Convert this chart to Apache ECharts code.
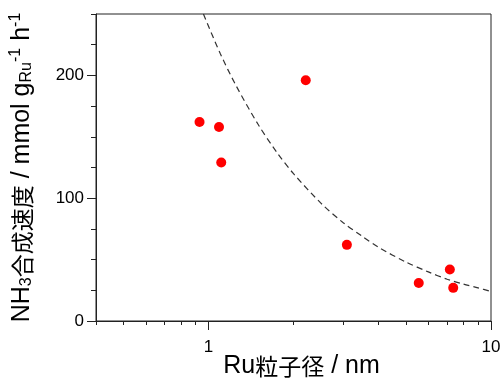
<!DOCTYPE html>
<html>
<head>
<meta charset="utf-8">
<script src="https://cdn.jsdelivr.net/npm/echarts@6/dist/echarts.min.js"></script>
<style>html,body{margin:0;padding:0;background:#fff}#c{width:504px;height:378px}</style>
</head>
<body>
<div id="c"></div>
<script>
// Measured points: Ru particle size (nm) vs NH3 synthesis rate
var sizeNm = [0.93, 1.09, 1.11, 2.21, 3.09, 5.55, 7.15, 7.35];
var rate = [162, 158, 129, 196, 62, 31, 42, 27];
// Dashed trend curve
var curveX = [0.96, 1.1, 1.25, 1.5, 1.75, 2, 2.5, 3, 3.5, 4, 5, 6, 7, 8, 9, 10];
var curveY = [250, 218, 192, 160, 137, 120, 96, 80, 69, 60, 48, 40, 34, 30, 27, 24];
var xMajorTicks = [1, 10];
var xMinorTicks = [0.4, 0.5, 0.6, 0.7, 0.8, 0.9, 2, 3, 4, 5, 6, 7, 8, 9];
var yMajorTicks = [0, 100, 200];
var yMinorTicks = [25, 50, 75, 125, 150, 175, 225, 250];

var latin = '"Liberation Sans", Arial, sans-serif';
var cjk = '"Noto Sans CJK JP", sans-serif';
var axisColor = '#222';

var chart = echarts.init(document.getElementById('c'), null, {renderer: 'canvas'});
var pts = sizeNm.map(function (x, i) { return [x, rate[i]]; });
var curve = curveX.map(function (x, i) { return [x, curveY[i]]; });

chart.setOption({
  animation: false,
  grid: {left: 96, right: 13, top: 14, bottom: 57, outerBoundsMode: 'none', containLabel: false,
         show: true, borderColor: axisColor, borderWidth: 1, backgroundColor: 'transparent'},
  xAxis: [{
    type: 'log', logBase: 10, min: 0.4, max: 10,
    axisLine: {show: true, lineStyle: {color: axisColor, width: 1}},
    axisTick: {show: true, length: 9, customValues: xMajorTicks, lineStyle: {color: axisColor}},
    axisLabel: {customValues: xMajorTicks, margin: 18, color: '#000', fontSize: 17, fontFamily: latin},
    splitLine: {show: false},
    name: '{l|Ru}{c|粒子径}{l| / nm}',
    nameLocation: 'middle', nameGap: 33, nameMoveOverlap: false,
    nameTextStyle: {padding: [0, 0, 0, 16], rich: {
      l: {fontFamily: latin, fontSize: 25, color: '#000'},
      c: {fontFamily: cjk, fontSize: 23, color: '#000'}
    }}
  }, {
    type: 'log', logBase: 10, min: 0.4, max: 10, position: 'bottom',
    axisLine: {show: false},
    axisTick: {show: true, length: 4, customValues: xMinorTicks, lineStyle: {color: axisColor}},
    axisLabel: {show: false},
    splitLine: {show: false}
  }],
  yAxis: [{
    type: 'value', min: 0, max: 250,
    axisLine: {show: true, lineStyle: {color: axisColor, width: 1}},
    axisTick: {show: true, length: 9, customValues: yMajorTicks, lineStyle: {color: axisColor}},
    axisLabel: {customValues: yMajorTicks, margin: 12, color: '#000', fontSize: 17, fontFamily: latin},
    splitLine: {show: false},
    name: '{l|NH}{s|3}{c|合成速度}{l| / mmol g}{s|Ru}{p|-1}{l| h}{p|-1}',
    nameLocation: 'middle', nameGap: 60, nameRotate: 90,
    nameTextStyle: {rich: {
      l: {fontFamily: latin, fontSize: 25, color: '#000'},
      c: {fontFamily: cjk, fontSize: 23, color: '#000'},
      s: {fontFamily: latin, fontSize: 16, color: '#000', padding: [10, 0, 0, 0]},
      p: {fontFamily: latin, fontSize: 16, color: '#000', padding: [0, 0, 12, 0]}
    }}
  }, {
    type: 'value', min: 0, max: 250, position: 'left',
    axisLine: {show: false},
    axisTick: {show: true, length: 5, customValues: yMinorTicks, lineStyle: {color: axisColor}},
    axisLabel: {show: false},
    splitLine: {show: false}
  }],
  series: [{
    type: 'line', xAxisIndex: 0, yAxisIndex: 0,
    data: curve, smooth: 0.3, showSymbol: false, symbol: 'none',
    lineStyle: {color: '#333', width: 1.2, type: [6, 4]},
    clip: true, z: 2
  }, {
    type: 'scatter', xAxisIndex: 0, yAxisIndex: 0,
    data: pts, symbolSize: 10,
    itemStyle: {color: '#ff0000', opacity: 1},
    z: 3
  }]
});
</script>
</body>
</html>
